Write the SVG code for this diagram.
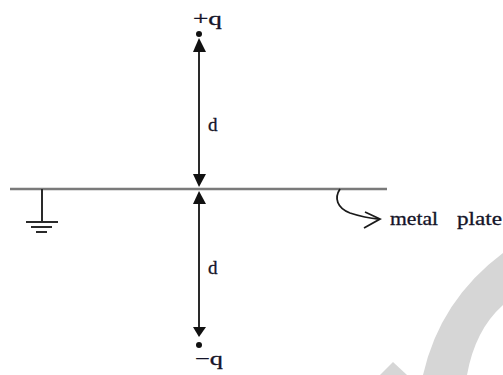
<svg xmlns="http://www.w3.org/2000/svg" width="503" height="375" viewBox="0 0 503 375">
<style>
.t{font-family:"Liberation Serif","Times New Roman",serif;fill:#141428;font-size:19px;stroke:#141428;stroke-width:0.3}
.ln{stroke:#2a2a2a;stroke-width:2;fill:none}
.ah{fill:#111}
.wm{fill:#d6d6d6}
</style>
<rect width="503" height="375" fill="#fff"/>
<g id="watermark">
<path class="wm" d="M503,253 Q440,300 423,375 L467,375 Q475,330 503,305 Z"/>
<polygon class="wm" points="380,375 393,362 407,375"/>
</g>
<g id="plate">
<line x1="10" y1="189" x2="387" y2="189" stroke="#7a7a7a" stroke-width="2.5"/>
</g>
<g id="ground">
<line class="ln" x1="42" y1="189" x2="42" y2="222"/>
<line class="ln" x1="26" y1="222" x2="58" y2="222"/>
<line class="ln" x1="31" y1="227" x2="52" y2="227"/>
<line class="ln" x1="36" y1="232" x2="47" y2="232"/>
</g>
<g id="plus-q">
<circle cx="199" cy="34" r="3" fill="#111"/>
<text class="t" x="193" y="25" textLength="29" lengthAdjust="spacingAndGlyphs">+q</text>
</g>
<g id="minus-q">
<circle cx="199" cy="345" r="3" fill="#111"/>
<text class="t" x="195" y="365" textLength="28" lengthAdjust="spacingAndGlyphs">−q</text>
</g>
<g id="label-metal-plate">
<text class="t" y="225"><tspan x="390" textLength="48" lengthAdjust="spacingAndGlyphs">metal</tspan><tspan x="457" textLength="45" lengthAdjust="spacingAndGlyphs">plate</tspan></text>
</g>
<g id="connectors">
<line class="ln" x1="199" y1="48" x2="199" y2="178"/>
<polygon class="ah" points="199,38 193,52 206,52"/>
<polygon class="ah" points="199,187 193,174 206,174"/>
<text class="t" x="208" y="131" font-size="20">d</text>
<line class="ln" x1="199" y1="200" x2="199" y2="332"/>
<polygon class="ah" points="199,191 193,204 206,204"/>
<polygon class="ah" points="199,337 193,327 206,327"/>
<text class="t" x="208" y="274" font-size="20">d</text>
<path d="M340,189 C334,198 337,208 350,213 Q365,218 379,219" stroke="#1a1a1a" stroke-width="1.8" fill="none"/>
<polyline points="365,212 380,219 364,228" stroke="#1a1a1a" stroke-width="1.8" fill="none"/>
</g>
</svg>
